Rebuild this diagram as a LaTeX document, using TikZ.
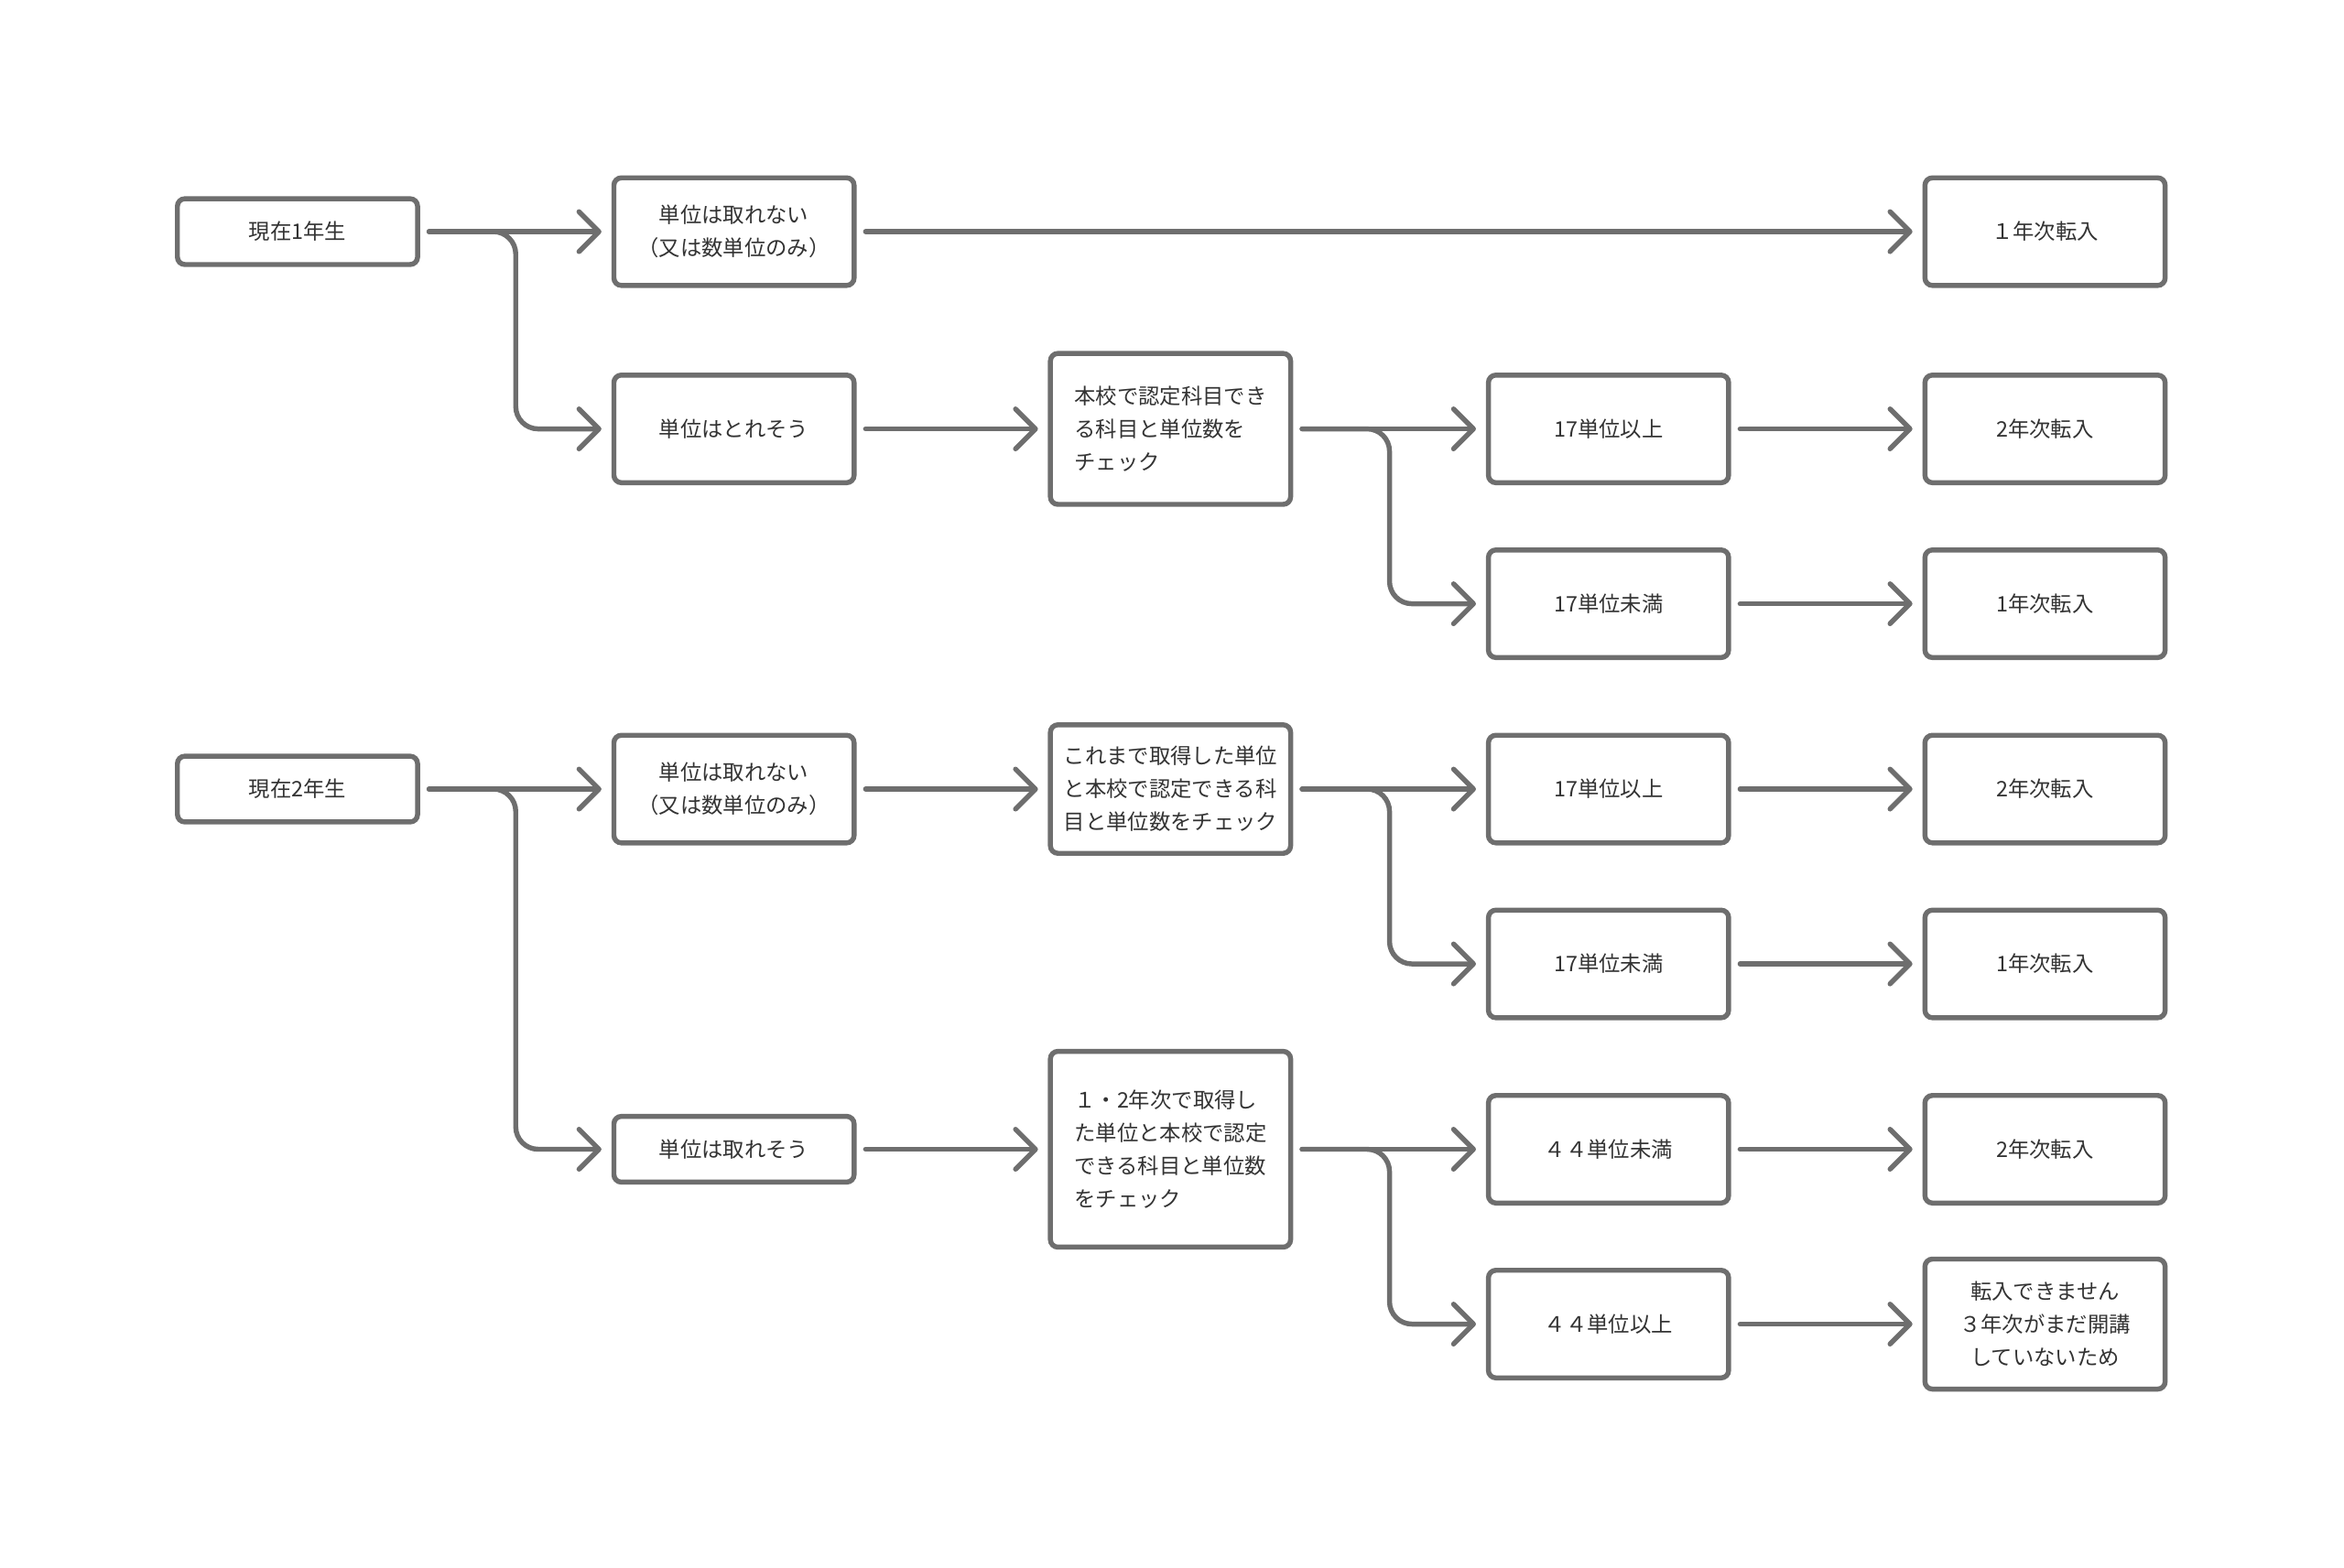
\documentclass[tikz,border=0pt]{standalone}
\usepackage{fontspec}
\setmainfont{Noto Sans CJK JP}
\usepackage{xcolor}
\usepackage{tikz}
\usetikzlibrary{arrows.meta,calc}
\definecolor{edge}{HTML}{6E6E6E}
\definecolor{ink}{HTML}{333333}

\begin{document}
\begin{tikzpicture}[x=0.03cm, y=-0.03cm,
      box/.style={draw=edge, line width=0.1cm, rounded corners=0.15cm,
                  fill=white, text=ink, minimum width=4.82cm,
                  minimum height=2.16cm, align=center, inner sep=2pt,
                  font=\fontsize{12.2pt}{18.8pt}\selectfont},
      small/.style={minimum height=1.32cm},
      arr/.style={draw=edge, line width=0.1cm, line cap=round,
                  -{Straight Barb[length=0.4cm, width=0.8cm, round]},
                  shorten <=0.18cm, shorten >=0.2cm},
      fork/.style={arr, rounded corners=0.45cm},
    ]
      \useasboundingbox (0,0) rectangle (1568,1049);

      \node[box, small] (y1) at (199, 155) {現在1年生};
      \node[box, small] (y2) at (199, 528) {現在2年生};

      \node[box] (n1) at (491, 155) {単位は取れない\\（又は数単位のみ）};
      \node[box] (s1) at (491, 287) {単位はとれそう};
      \node[box] (n2) at (491, 528) {単位は取れない\\（又は数単位のみ）};
      \node[box, small] (s2) at (491, 769) {単位は取れそう};

      \node[box, align=left, minimum height=3.03cm] (c1) at (783, 287) {%
        本校で認定科目でき\\る科目と単位数を\\チェック};
      \node[box, align=left, minimum height=2.58cm] (c2) at (783, 528) {%
        これまで取得した単位\\と本校で認定できる科\\目と単位数をチェック};
      \node[box, align=left, minimum height=3.93cm] (c3) at (783, 769) {%
        １・2年次で取得し\\た単位と本校で認定\\できる科目と単位数\\をチェック};

      \node[box] (g1) at (1076, 287) {17単位以上};
      \node[box] (l1) at (1076, 404) {17単位未満};
      \node[box] (g2) at (1076, 528) {17単位以上};
      \node[box] (l2) at (1076, 645) {17単位未満};
      \node[box] (u2) at (1076, 769) {４４単位未満};
      \node[box] (o2) at (1076, 886) {４４単位以上};

      \node[box] (r1a) at (1368, 155) {１年次転入};
      \node[box] (r1b) at (1368, 287) {2年次転入};
      \node[box] (r1c) at (1368, 404) {1年次転入};
      \node[box] (r2a) at (1368, 528) {2年次転入};
      \node[box] (r2b) at (1368, 645) {1年次転入};
      \node[box] (r2c) at (1368, 769) {2年次転入};
      \node[box, minimum height=2.61cm] (r2d) at (1368, 886) {%
        転入できません\\３年次がまだ開講\\していないため};

      \coordinate (m1) at ($(y1.east)!.5!(n1.west)$);
      \coordinate (m2) at ($(c1.east)!.5!(g1.west)$);

      \draw[arr] (y1.east) -- (n1.west);
      \draw[fork] (y1.east) -| (m1 |- s1.west) -- (s1.west);
      \draw[arr] (n1.east) -- (r1a.west);
      \draw[arr] (s1.east) -- (c1.west);
      \draw[arr] (c1.east) -- (g1.west);
      \draw[fork] (c1.east) -| (m2 |- l1.west) -- (l1.west);
      \draw[arr] (g1.east) -- (r1b.west);
      \draw[arr] (l1.east) -- (r1c.west);

      \draw[arr] (y2.east) -- (n2.west);
      \draw[fork] (y2.east) -| (m1 |- s2.west) -- (s2.west);
      \draw[arr] (n2.east) -- (c2.west);
      \draw[arr] (c2.east) -- (g2.west);
      \draw[fork] (c2.east) -| (m2 |- l2.west) -- (l2.west);
      \draw[arr] (g2.east) -- (r2a.west);
      \draw[arr] (l2.east) -- (r2b.west);
      \draw[arr] (s2.east) -- (c3.west);
      \draw[arr] (c3.east) -- (u2.west);
      \draw[fork] (c3.east) -| (m2 |- o2.west) -- (o2.west);
      \draw[arr] (u2.east) -- (r2c.west);
      \draw[arr] (o2.east) -- (r2d.west);
    \end{tikzpicture}
\end{document}
